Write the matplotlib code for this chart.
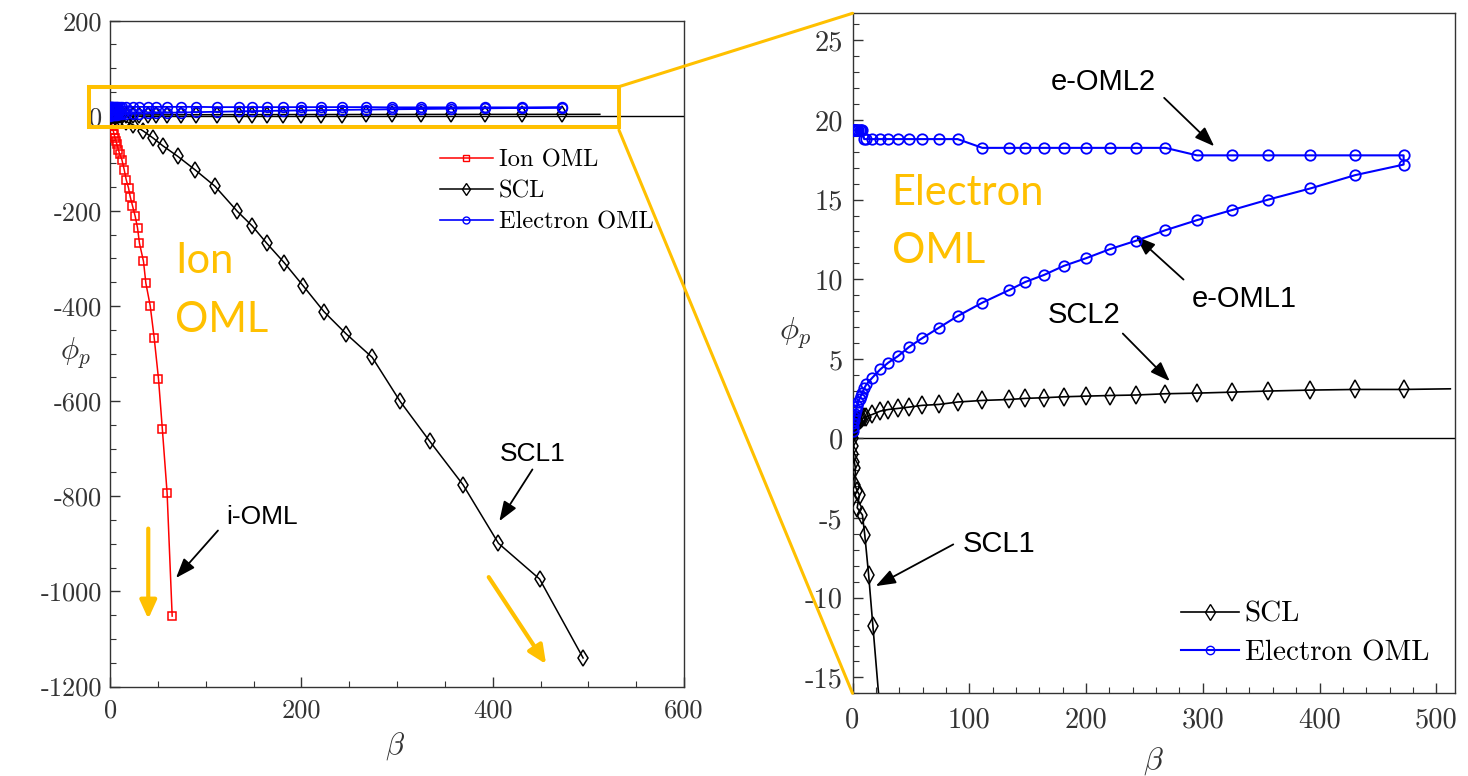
import matplotlib
matplotlib.use("Agg")
import matplotlib.pyplot as plt
from matplotlib.lines import Line2D
from matplotlib.patches import Rectangle, ConnectionPatch
from matplotlib.ticker import MultipleLocator

# ---------------- data ----------------
# shared beta grid of the electron-OML and SCL2 branches
beta_grid = [0, 0.2, 0.5, 1, 1.5, 2, 3, 4, 5, 6, 7, 8.5, 10, 11.9, 17, 23.8, 30.6,
             39.1, 48.3, 59.5, 74.1, 90.1, 111.2, 134.4, 148, 164, 181, 200, 220.4,
             242.5, 268, 295, 324.8, 356, 392, 430.6, 472]
phi_eoml1 = [0.46, 0.75, 0.95, 1.15, 1.35, 1.55, 1.8, 2.05, 2.3, 2.5, 2.65, 2.87, 3.15,
             3.40, 3.82, 4.34, 4.76, 5.18, 5.74, 6.29, 6.96, 7.69, 8.53, 9.33, 9.83,
             10.27, 10.84, 11.32, 11.89, 12.41, 13.08, 13.71, 14.34, 15.0, 15.7, 16.54, 17.2]
phi_eoml2 = [19.35, 19.35, 19.35, 19.35, 19.35, 19.35, 19.35, 19.35, 19.35, 19.35, 19.35,
             19.35, 18.8, 18.8, 18.8, 18.8, 18.8, 18.8, 18.8, 18.8, 18.8, 18.8, 18.25,
             18.25, 18.25, 18.25, 18.25, 18.25, 18.25, 18.25, 18.25, 17.78, 17.78, 17.78,
             17.78, 17.78, 17.78]
phi_scl2 = [0, 0.3, 0.45, 0.6, 0.7, 0.8, 0.95, 1.05, 1.12, 1.18, 1.22, 1.27, 1.32, 1.38,
            1.51, 1.72, 1.82, 1.89, 1.97, 2.08, 2.14, 2.29, 2.39, 2.45, 2.52, 2.56, 2.62,
            2.66, 2.70, 2.73, 2.81, 2.85, 2.91, 2.98, 3.04, 3.08, 3.08]
beta_scl2_end = 512
phi_scl2_end = 3.12

# SCL1 branch as seen in the zoomed (right) panel
beta_scl1_zoom = [0, 0.3, 0.8, 1.5, 2.5, 2.0, 4.0, 6.0, 4.0, 8.5, 10.5, 13.8, 17.5, 24]
phi_scl1_zoom = [0, -0.5, -1.0, -1.45, -1.85, -2.9, -3.3, -3.55, -4.35, -4.8, -6.05,
                 -8.55, -11.8, -17.5]

# SCL1 branch in the full (left) panel
beta_scl1_full = [0, 5, 10, 17, 24, 34.6, 45, 55, 70.5, 89, 109.5, 133, 148.7, 163.7,
                  182, 202, 223.6, 247, 274, 303, 334, 369, 406, 449, 494.5]
phi_scl1_full = [0, -3, -6, -12, -19, -32, -47, -63, -85, -114, -148, -201, -232, -268,
                 -309, -358, -412, -459, -508, -600, -684, -776, -899, -974, -1140]

# Ion OML branch (left panel)
beta_ion = [0, 0.5, 1, 2, 3, 4, 5, 6, 7, 8.5, 10, 12.2, 14.6, 16.7, 19.2, 20.9, 23.3,
            26.1, 28.6, 30.6, 34.8, 37.3, 41.8, 46, 50.5, 54.5, 59.5, 64.8]
phi_ion = [0, -7, -12, -21, -30, -38, -46, -53, -60, -71, -81, -92, -113, -134, -152,
           -170, -189, -211, -236, -268, -306, -352, -399, -467, -553, -658, -793, -1052]

legend_left = ["Ion OML", "SCL", "Electron OML"]
legend_right = ["SCL", "Electron OML"]

# ---------------- style ----------------
plt.rcParams["font.family"] = ["cmr10", "DejaVu Serif"]
plt.rcParams["mathtext.fontset"] = "cm"
plt.rcParams["axes.unicode_minus"] = False
plt.rcParams["axes.linewidth"] = 1.0
plt.rcParams["axes.edgecolor"] = "#333333"

GOLD = "#FFC000"
SANS = ["Liberation Sans", "DejaVu Sans"]
YEL = ["Lato", "DejaVu Sans"]

W, H = 1468, 776
fig = plt.figure(figsize=(W / 100, H / 100), dpi=100)
fig.patch.set_facecolor("white")
axL = fig.add_axes([110.2 / W, 1 - 686.5 / H, (684 - 110.2) / W, (686.5 - 20.7) / H])
axR = fig.add_axes([852.5 / W, 1 - 693.3 / H, (1455 - 852.5) / W, (693.3 - 13.3) / H])

# combined curves (one polyline per physical branch)
e_beta = beta_grid + beta_grid[::-1]
e_phi = phi_eoml1 + phi_eoml2[::-1]


def scl_curve(b1, p1):
    b = b1[::-1] + beta_grid[1:] + [beta_scl2_end]
    p = p1[::-1] + phi_scl2[1:] + [phi_scl2_end]
    return b, p


# ---------------- left panel ----------------
axL.axhline(0, color="black", lw=1.0, zorder=1)
axL.plot(beta_ion, phi_ion, color="red", lw=1.1, marker="s", ms=5.5, mfc="none",
         mec="red", mew=1.1, zorder=3)
bL, pL = scl_curve(beta_scl1_full, phi_scl1_full)
axL.plot(bL, pL, color="black", lw=1.1, marker="d", ms=8, mfc="none", mec="black",
         mew=1.1, markevery=list(range(len(bL) - 1)), zorder=3)
axL.plot(e_beta, e_phi, color="blue", lw=1.3, marker="o", ms=7, mfc="none", mec="blue",
         mew=1.2, zorder=4)
axL.set_xlim(0, 600)
axL.set_ylim(-1200, 200)
axL.xaxis.set_major_locator(MultipleLocator(200))
axL.xaxis.set_minor_locator(MultipleLocator(50))
axL.yaxis.set_major_locator(MultipleLocator(200))
axL.yaxis.set_minor_locator(MultipleLocator(50))
axL.tick_params(which="both", direction="in", colors="#333333", labelcolor="#333333")
axL.tick_params(which="major", length=7, width=1.0, labelsize=19)
axL.tick_params(which="minor", length=4, width=0.8)
axL.tick_params(axis="x", pad=9)
axL.tick_params(axis="y", pad=6)
axL.set_xlabel(r"$\beta$", fontsize=22, color="#333333")
axL.xaxis.set_label_coords(0.497, -0.065)
axL.set_ylabel(r"$\phi_p$", fontsize=22, rotation=0, ha="center", va="center",
               color="#333333")
axL.yaxis.set_label_coords(-0.061, 0.502)

hL = [Line2D([], [], color="red", lw=1.1, marker="s", ms=4.5, mfc="none", mec="red"),
      Line2D([], [], color="black", lw=1.1, marker="d", ms=6, mfc="none", mec="black"),
      Line2D([], [], color="blue", lw=1.2, marker="o", ms=5, mfc="none", mec="blue")]
axL.legend(hL, legend_left, loc="upper left", bbox_to_anchor=(0.5746, 0.806),
           frameon=False, borderpad=0, borderaxespad=0, handlelength=2.17,
           handletextpad=0.25, labelspacing=0.35, fontsize=17.6)

# annotations (left)
arrow_k = dict(arrowstyle="-|>,head_length=0.6,head_width=0.22", color="black", lw=1.3,
               shrinkA=0, shrinkB=0, mutation_scale=20)
axL.text(158.9, -844, "i-OML", fontsize=19, family=SANS, ha="center", va="center")
axL.annotate("", xy=(68.8, -971.8), xytext=(112.7, -872), arrowprops=arrow_k)
axL.text(441.9, -712, "SCL1", fontsize=19, family=SANS, ha="center", va="center")
axL.annotate("", xy=(406.9, -852.4), xytext=(441.5, -743.6), arrowprops=arrow_k)

arrow_y = dict(arrowstyle="-|>,head_length=0.55,head_width=0.25", color=GOLD, lw=3.0,
               shrinkA=0, shrinkB=0, mutation_scale=20)
axL.annotate("", xy=(39.8, -1058), xytext=(39.8, -868), arrowprops=arrow_y,
             annotation_clip=False)
axL.annotate("", xy=(455.8, -1153), xytext=(395.8, -970), arrowprops=arrow_y,
             annotation_clip=False)
axL.text(67.7, -330.9, "Ion", fontsize=30, family=YEL, color=GOLD, ha="left",
         va="baseline")
axL.text(67.7, -455, "OML", fontsize=30, family=YEL, color=GOLD, ha="left",
         va="baseline")

# ---------------- right panel ----------------
axR.axhline(0, color="black", lw=1.0, zorder=1)
bR, pR = scl_curve(beta_scl1_zoom, phi_scl1_zoom)
axR.plot(bR, pR, color="black", lw=1.2, marker="d", ms=9, mfc="none", mec="black",
         mew=1.1, markevery=list(range(len(bR) - 1)), zorder=3)
axR.plot(e_beta, e_phi, color="blue", lw=1.5, marker="o", ms=7.5, mfc="none", mec="blue",
         mew=1.3, zorder=4)
axR.set_xlim(0, 516)
axR.set_ylim(-16, 26.7)
axR.xaxis.set_major_locator(MultipleLocator(100))
axR.xaxis.set_minor_locator(MultipleLocator(20))
axR.yaxis.set_major_locator(MultipleLocator(5))
axR.yaxis.set_minor_locator(MultipleLocator(1))
axR.tick_params(which="both", direction="in", colors="#333333", labelcolor="#333333")
axR.tick_params(which="major", length=7, width=1.0, labelsize=20.5)
axR.tick_params(which="minor", length=4, width=0.8)
axR.tick_params(axis="x", pad=10)
axR.tick_params(axis="y", pad=7)
axR.set_xlabel(r"$\beta$", fontsize=23, color="#333333")
axR.xaxis.set_label_coords(0.5, -0.076)
axR.set_ylabel(r"$\phi_p$", fontsize=23, rotation=0, ha="center", va="center",
               color="#333333")
axR.yaxis.set_label_coords(-0.095, 0.529)

hR = [Line2D([], [], color="black", lw=1.2, marker="d", ms=8, mfc="none", mec="black"),
      Line2D([], [], color="blue", lw=1.5, marker="o", ms=6, mfc="none", mec="blue")]
axR.legend(hR, legend_right, loc="upper left", bbox_to_anchor=(0.5446, 0.135),
           frameon=False, borderpad=0, borderaxespad=0, handlelength=2.0,
           handletextpad=0.2, labelspacing=0.42, fontsize=21)

axR.text(214.4, 22.41, "e-OML2", fontsize=21, family=SANS, ha="center", va="center")
axR.annotate("", xy=(309.8, 18.35), xytext=(266.9, 21.39), arrowprops=arrow_k)
axR.text(335.9, 8.79, "e-OML1", fontsize=21, family=SANS, ha="center", va="center")
axR.annotate("", xy=(242.6, 12.70), xytext=(283.5, 9.98), arrowprops=arrow_k)
axR.text(198.5, 7.75, "SCL2", fontsize=21, family=SANS, ha="center", va="center")
axR.annotate("", xy=(271.7, 3.6), xytext=(231.5, 6.59), arrowprops=arrow_k)
axR.text(125.4, -6.65, "SCL1", fontsize=21, family=SANS, ha="center", va="center")
axR.annotate("", xy=(19.9, -9.27), xytext=(86.3, -6.65), arrowprops=arrow_k)

axR.text(33.5, 14.69, "Electron", fontsize=30, family=YEL, color=GOLD, ha="left",
         va="baseline")
axR.text(33.5, 11.05, "OML", fontsize=30, family=YEL, color=GOLD, ha="left",
         va="baseline")

# ---------------- zoom box and connectors ----------------
rect = Rectangle((-21.8, -24.2), 553.8, 85.5, fill=False, ec=GOLD, lw=2.9,
                 clip_on=False, zorder=6)
axL.add_patch(rect)
c1 = ConnectionPatch(xyA=(532, 61.3), coordsA=axL.transData, xyB=(0, 1),
                     coordsB=axR.transAxes, color=GOLD, lw=2.2, zorder=6)
c2 = ConnectionPatch(xyA=(532, -30), coordsA=axL.transData, xyB=(0, 0),
                     coordsB=axR.transAxes, color=GOLD, lw=2.2, zorder=6)
fig.add_artist(c1)
fig.add_artist(c2)

fig.savefig("out.png", dpi=100, facecolor="white")
